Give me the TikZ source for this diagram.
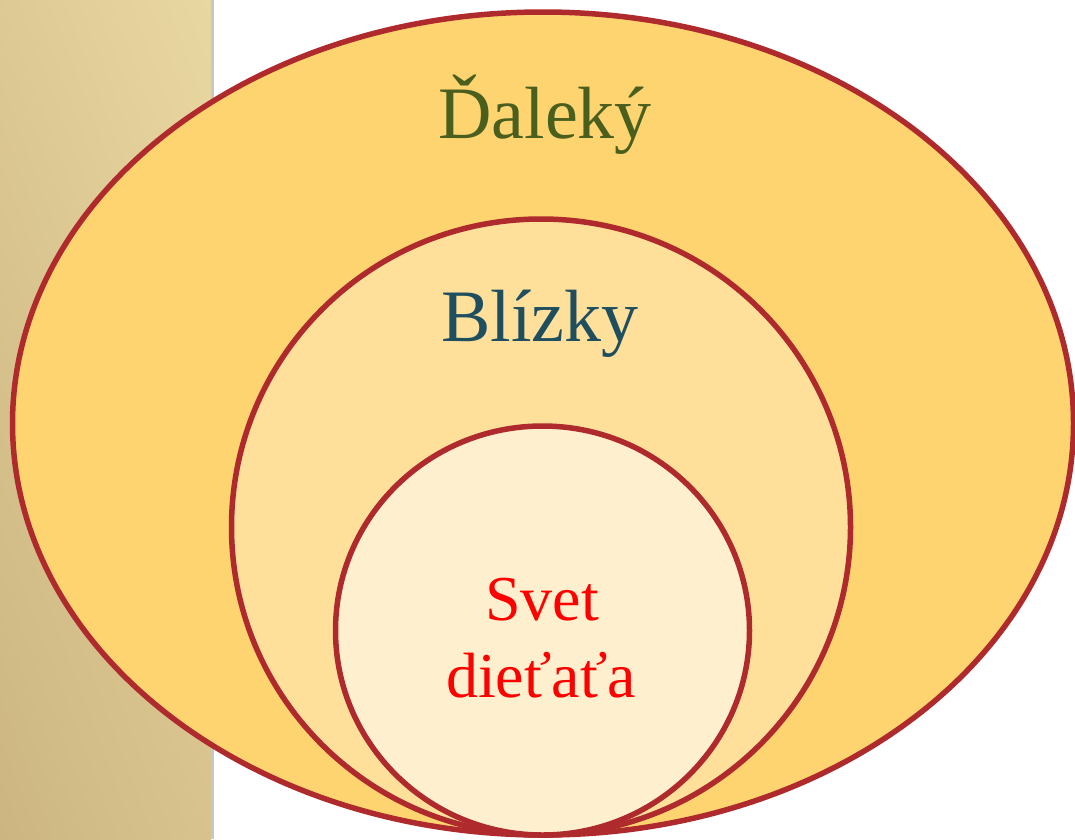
\documentclass[tikz,border=0pt]{standalone}
\usepackage{fontspec}
\setmainfont{Liberation Serif}
\usetikzlibrary{shadings}
\definecolor{band1}{HTML}{CCB580}
\definecolor{band2}{HTML}{E9D7A2}
\definecolor{outerfill}{HTML}{FDD470}
\definecolor{midfill}{HTML}{FEE09B}
\definecolor{innerfill}{HTML}{FEF0CE}
\definecolor{ring}{HTML}{AF2A2D}
\definecolor{txtfar}{HTML}{4A5E1E}
\definecolor{txtnear}{HTML}{1F4E5F}
\definecolor{txtchild}{HTML}{FF0000}
\colorlet{bandlr}{band1!60!band2}
\colorlet{bandul}{band1!40!band2}
\begin{document}
\begin{tikzpicture}[x=1pt,y=-1pt,
  ringline/.style={draw=ring,line width=5.5pt},
  lbl/.style={inner sep=0pt,align=center}]
\useasboundingbox (0,0) rectangle (1075,839);
\clip (0,0) rectangle (1075,839);
\fill[white] (0,0) rectangle (1075,839);
\shade[lower left=band1,upper right=band2,lower right=bandlr,upper left=bandul] (0,0) rectangle (211,839);
\fill[black!22] (211,0) rectangle (213.5,839);
\path[ringline,fill=outerfill] (543,423.5) ellipse [x radius=530.5, y radius=411.5];
\path[ringline,fill=midfill] (541,527) ellipse [x radius=309.5, y radius=308];
\path[ringline,fill=innerfill] (542.5,630.5) ellipse [x radius=207, y radius=204.5];
\node[lbl,text=txtfar,font=\fontsize{74}{80}\selectfont,anchor=base] (far) at (545,138) {Ďaleký};
\node[lbl,text=txtnear,font=\fontsize{74}{80}\selectfont,anchor=base] (near) at (540,341) {Blízky};
\node[lbl,text=txtchild,font=\fontsize{64}{77}\selectfont,anchor=base] (child1) at (542,620) {Svet};
\node[lbl,text=txtchild,font=\fontsize{64}{77}\selectfont,anchor=base] (child2) at (541,697) {dieťaťa};
\end{tikzpicture}
\end{document}
